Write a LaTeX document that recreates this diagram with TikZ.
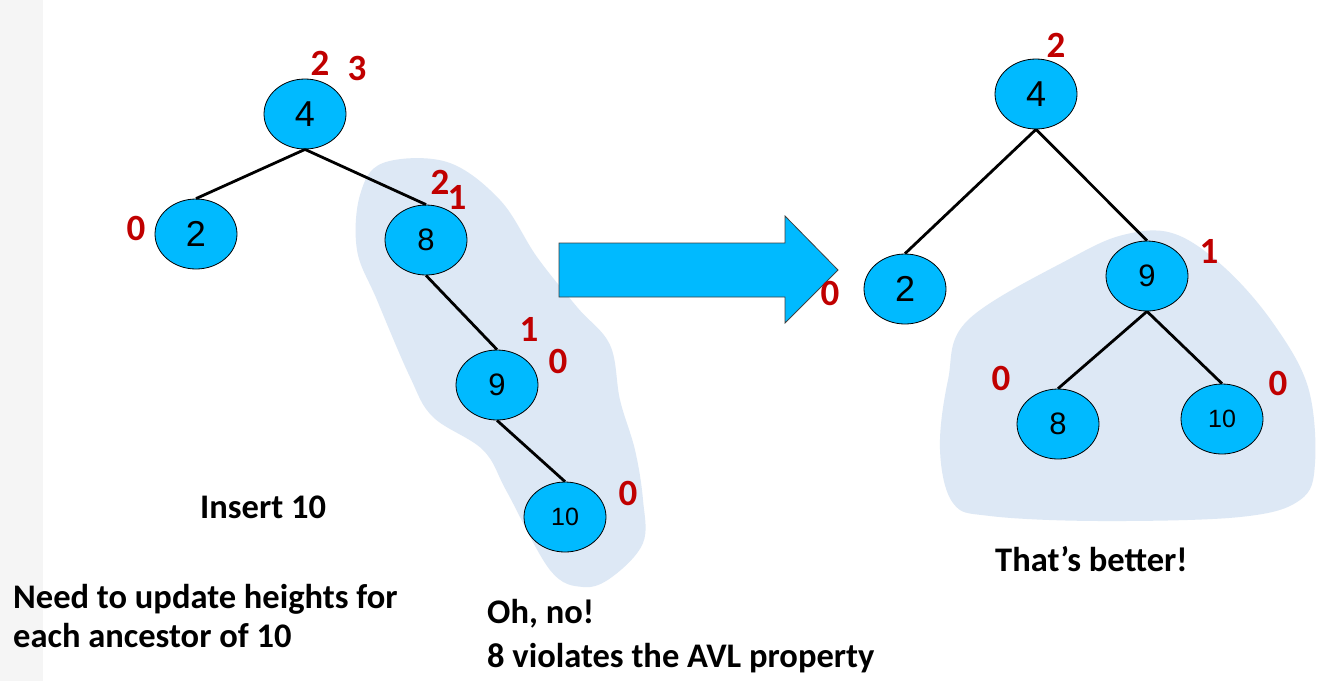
\documentclass[tikz,border=0pt]{standalone}
\usepackage{fontspec}
\setmainfont{Carlito}
\newfontfamily\arialfont{Liberation Sans}
\usetikzlibrary{shapes.geometric}
\definecolor{nodeblue}{RGB}{0,186,255}
\definecolor{blobblue}{RGB}{221,232,245}
\definecolor{hred}{RGB}{192,0,0}
\tikzset{
  avl/.style={ellipse, draw=black, line width=0.8pt, fill=nodeblue, minimum width=82pt, minimum height=70pt, inner sep=0pt, font=\arialfont\fontsize{31}{34}\selectfont},
  avlbig/.style={avl, font=\arialfont\fontsize{36}{40}\selectfont},
  avlsmall/.style={avl, font=\arialfont\fontsize{25}{28}\selectfont},
  hlab/.style={text=hred, font=\bfseries\fontsize{37}{40}\selectfont, inner sep=0pt},
  caption/.style={anchor=base west, inner sep=0pt, font=\bfseries\fontsize{34.5}{38}\selectfont},
  edge/.style={draw=black, line width=2.8pt},
  blob/.style={fill=blobblue, draw=none}
}
\begin{document}
\begin{tikzpicture}[x=1pt,y=-1pt]
\useasboundingbox (0,0) rectangle (1340,681);
\fill[white] (0,0) rectangle (1340,681);
\fill[gray!8] (0,0) rectangle (43,681);
% blobs
\path[blob] plot[smooth cycle, tension=0.6] coordinates {
 (383,163) (447,162) (500,200) (537,257) (577,307) (610,345) (620,400)
 (635,450) (643,500) (643,543) (612,577) (583,587) (550,570) (507,492)
 (483,450) (433,417) (410,377) (377,300) (357,250) (360,195)};
\path[blob] plot[smooth cycle, tension=0.6] coordinates {
 (968,320) (1073,257) (1127,234) (1175,234) (1225,268) (1273,323)
 (1308,387) (1315,463) (1300,500) (1240,517) (1100,521) (990,516)
 (953,503) (940,450) (948,380)};
% left tree
\node[avlbig] (L4) at (305,114) {4};
\node[avlbig] (L2) at (196,234) {2};
\node[avl] (L8) at (426,240) {8};
\node[avl] (L9) at (497,385) {9};
\node[avlsmall] (L10) at (565,517) {10};
\draw[edge] (L4.south) -- (L2.north);
\draw[edge] (L4.south) -- (L8.north);
\draw[edge] (L8.south) -- (L9.north);
\draw[edge] (L9.south) -- (L10.north);
% left heights
\node[hlab] (h4a) at (320,63) {2};
\node[hlab] (h4b) at (357,68) {3};
\node[hlab] (h2) at (136,228) {0};
\node[hlab] (h8a) at (440,182) {2};
\node[hlab] (h8b) at (457,197) {1};
\node[hlab] (h9a) at (529,329) {1};
\node[hlab] (h9b) at (558,361) {0};
\node[hlab] (h10) at (628,493) {0};
% arrow
\draw[fill=nodeblue, draw=black!75, line width=0.8pt]
  (559,243) -- (785,243) -- (785,216) -- (838,270) -- (785,323) -- (785,297) -- (559,297) -- cycle;
% right tree
\node[avlbig] (R4) at (1036,94) {4};
\node[avlbig] (R2) at (905,289) {2};
\node[avl] (R9) at (1147,276) {9};
\node[avl] (R8) at (1058,424) {8};
\node[avlsmall] (R10) at (1222,419) {10};
\draw[edge] (R4.south) -- (R2.north);
\draw[edge] (R4.south) -- (R9.north);
\draw[edge] (R9.south) -- (R8.north);
\draw[edge] (R9.south) -- (R10.north);
\node[hlab] (r4) at (1056,45) {2};
\node[hlab] (r2) at (830,293) {0};
\node[hlab] (r9) at (1209,251) {1};
\node[hlab] (r8) at (1001,378) {0};
\node[hlab] (r10) at (1278,383) {0};
% captions
\node[caption] (ins) at (200,518) {Insert 10};
\node[caption] (need1) at (13,608) {Need to update heights for};
\node[caption] (need2) at (13,647) {each ancestor of 10};
\node[caption] (oh1) at (487,623) {Oh, no!};
\node[caption] (oh2) at (487,667) {8 violates the AVL property};
\node[caption] (better) at (995,571) {That’s better!};
\end{tikzpicture}
\end{document}
